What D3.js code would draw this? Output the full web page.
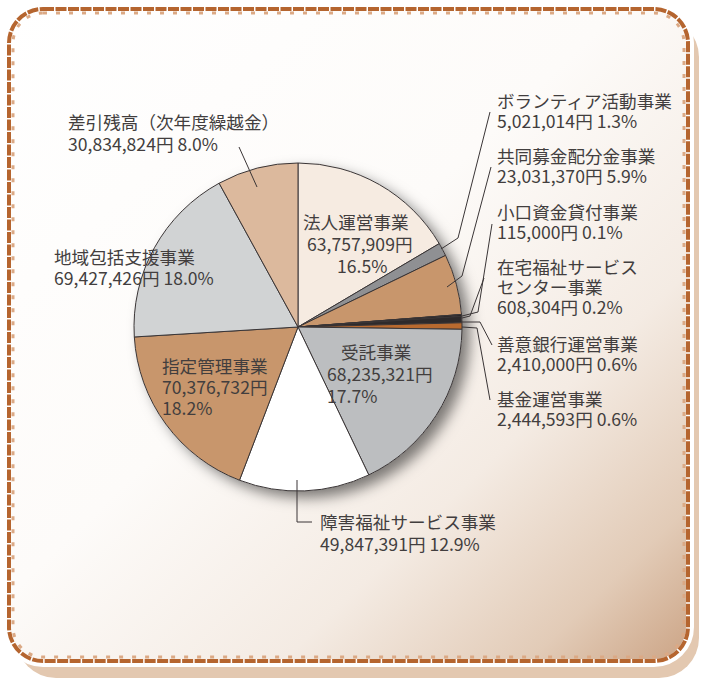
<!DOCTYPE html>
<html><head><meta charset="utf-8">
<script src="https://cdn.jsdelivr.net/npm/d3@7"></script>
<style>
html,body{margin:0;padding:0;background:#fff;}
svg{display:block;}
text{font-family:"Noto Sans CJK JP","Noto Sans",sans-serif;fill:#423e3e;font-size:17.6px;}
</style></head>
<body>
<script>
// ---- data ----
const categories = ["法人運営事業","ボランティア活動事業","共同募金配分金事業","小口資金貸付事業","在宅福祉サービスセンター事業","善意銀行運営事業","基金運営事業","受託事業","障害福祉サービス事業","指定管理事業","地域包括支援事業","差引残高（次年度繰越金）"];
const amounts = [63757909,5021014,23031370,115000,608304,2410000,2444593,68235321,49847391,70376732,69427426,30834824];
const amountLabels = ["63,757,909円","5,021,014円","23,031,370円","115,000円","608,304円","2,410,000円","2,444,593円","68,235,321円","49,847,391円","70,376,732円","69,427,426円","30,834,824円"];
const percentLabels = ["16.5%","1.3%","5.9%","0.1%","0.2%","0.6%","0.6%","17.7%","12.9%","18.2%","18.0%","8.0%"];
const nameLines = [["法人運営事業"],["ボランティア活動事業"],["共同募金配分金事業"],["小口資金貸付事業"],["在宅福祉サービス","センター事業"],["善意銀行運営事業"],["基金運営事業"],["受託事業"],["障害福祉サービス事業"],["指定管理事業"],["地域包括支援事業"],["差引残高（次年度繰越金）"]];
const colors = ["#f6ebe1","#8f9093","#c8966c","#ffffff","#231f20","#2e2a2b","#b96a2f","#bcbec0","#ffffff","#c8966c","#d1d3d4","#dcb99d"];

// ---- layout ----
const W=704,H=680, cx=298, cy=327, R=164;
const labelLayout = [
  {xs:[303,307,337], y:229, lh:22, mode:"stack3"},
  {xs:[497,497], y:108, lh:20, mode:"name+both"},
  {xs:[497,497], y:163, lh:20, mode:"name+both"},
  {xs:[497,497], y:219, lh:20, mode:"name+both"},
  {xs:[497,497,497], y:274, lh:20, mode:"name+both"},
  {xs:[497,497], y:351, lh:20, mode:"name+both"},
  {xs:[497,497], y:406, lh:20, mode:"name+both"},
  {xs:[341,327,327], y:359, lh:22, mode:"stack3"},
  {xs:[320,320], y:529, lh:22, mode:"name+both"},
  {xs:[162,162,162], y:373, lh:21, mode:"stack3"},
  {xs:[54,54], y:264, lh:21, mode:"name+both"},
  {xs:[68,68], y:129, lh:22, mode:"name+both"}
];
const leaders = [
  null,
  [[441,249],[458,238],[490,112]],
  [[447,287],[462,276],[491,167]],
  [[462,316],[478,312],[492,224]],
  [[462,318],[470,316],[484,278]],
  [[462,322],[480,322],[492,345]],
  [[462,327],[477,328],[490,400]],
  null,
  [[297,480],[297,522],[312,522]],
  null,
  null,
  [[239,147],[257,187]]
];

const svg = d3.select("body").append("svg").attr("width",W).attr("height",H);
const defs = svg.append("defs");
const lg = defs.append("linearGradient").attr("id","bg").attr("x1","0").attr("y1","0").attr("x2","1").attr("y2","1");
[[0,"#ffffff"],[0.45,"#fdfbf9"],[0.7,"#f4ebe3"],[0.88,"#e2cbb7"],[1,"#cba384"]].forEach(s=>lg.append("stop").attr("offset",s[0]).attr("stop-color",s[1]));
const f = defs.append("filter").attr("id","sh").attr("x","-20%").attr("y","-20%").attr("width","150%").attr("height","150%");
f.append("feDropShadow").attr("dx",8).attr("dy",7).attr("stdDeviation",7).attr("flood-color","#000").attr("flood-opacity",0.5);

// frame shadow
svg.append("rect").attr("x",16).attr("y",17).attr("width",683).attr("height",661).attr("rx",40).attr("fill","#e3c8b0");
// frame
svg.append("rect").attr("x",7).attr("y",7).attr("width",683).attr("height",656).attr("rx",36)
  .attr("fill","url(#bg)").attr("stroke","#fff").attr("stroke-width",8);
svg.append("rect").attr("x",9).attr("y",9).attr("width",679).attr("height",652).attr("rx",34)
  .attr("fill","none").attr("stroke","#b5652f").attr("stroke-width",4).attr("stroke-dasharray","11 1.5");
svg.append("rect").attr("x",13).attr("y",13).attr("width",671).attr("height",644).attr("rx",30)
  .attr("fill","none").attr("stroke","#dba985").attr("stroke-width",3).attr("stroke-dasharray","4 9");

// pie
const pie = d3.pie().sort(null).value(d=>d)(amounts);
const arc = d3.arc().innerRadius(0).outerRadius(R);
const g = svg.append("g").attr("transform",`translate(${cx},${cy})`);
g.append("circle").attr("r",R).attr("fill","#fff").attr("filter","url(#sh)");
g.selectAll("path.s").data(pie).join("path").attr("class","s")
  .attr("d",arc).attr("fill",(d,i)=>colors[i])
  .attr("stroke","#3a3536").attr("stroke-width",1).attr("stroke-linejoin","round");

// leaders
const line = d3.line();
leaders.forEach(l=>{ if(l) svg.append("path").attr("d",line(l)).attr("fill","none").attr("stroke","#3a3536").attr("stroke-width",1); });

// labels (one text element per line)
categories.forEach((c,i)=>{
  const L = labelLayout[i];
  let lines;
  if(L.mode==="stack3") lines = [...nameLines[i], amountLabels[i], percentLabels[i]];
  else lines = [...nameLines[i], amountLabels[i]+" "+percentLabels[i]];
  lines.forEach((s,k)=>{
    svg.append("text").attr("x",L.xs[Math.min(k,L.xs.length-1)]).attr("y",L.y+k*L.lh).text(s);
  });
});
</script>
</body></html>
